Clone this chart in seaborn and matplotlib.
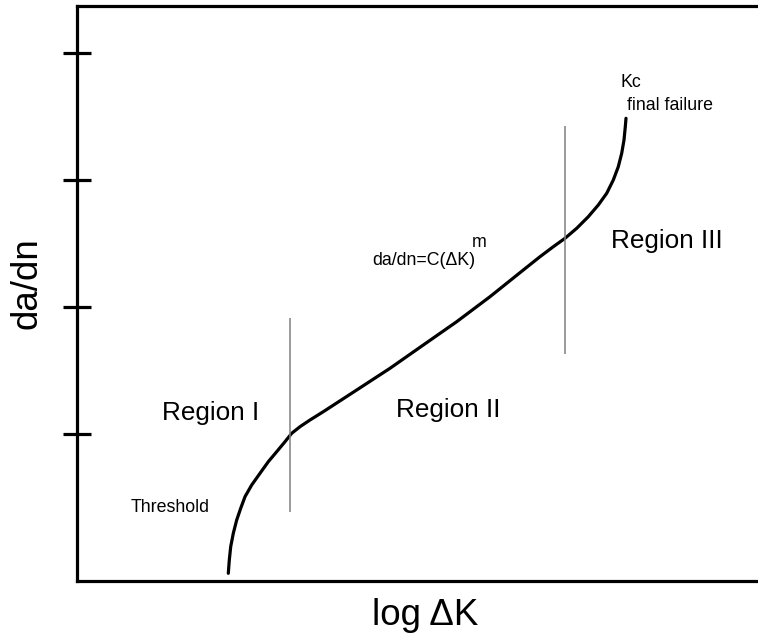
import numpy as np
import pandas as pd
import seaborn as sns
import matplotlib.pyplot as plt

# crack growth curve, in axis units (x: 0-681, y: 0-575)
curve_x = [151.3, 152.3, 153.7, 156.3, 159.7, 163.7, 168.0, 174.7, 183.0, 191.3,
           199.7, 208.0, 214.7, 223.0, 233.0, 246.3, 279.7, 313.0, 346.3, 379.7,
           413.0, 446.3, 463.0, 476.3, 488.0, 499.7, 511.3, 521.3, 529.7, 536.3,
           541.3, 544.7, 547.0, 548.3, 549.0]
curve_y = [7.7, 21.0, 34.3, 47.7, 61.0, 72.7, 84.3, 96.0, 107.7, 119.3,
           129.3, 139.3, 147.7, 154.3, 161.0, 169.3, 191.0, 212.7, 236.0, 259.3,
           284.3, 311.0, 324.3, 334.3, 342.7, 352.7, 364.3, 376.0, 387.7, 401.0,
           414.3, 427.7, 441.0, 454.3, 462.7]

# region boundaries: x position, y bottom, y top
bound_x = [213, 488]
bound_lo = [69, 227]
bound_hi = [263, 455]

ytick_pos = [147, 274, 401, 528]

sns.set_theme(style="white")
plt.rcParams['font.family'] = ['Liberation Sans', 'DejaVu Sans']

fig = plt.figure(figsize=(7.58, 6.38), dpi=100)
ax = fig.add_axes([77 / 758, 57 / 638, 681 / 758, 575 / 638])

df = pd.DataFrame({'x': curve_x, 'y': curve_y})
sns.lineplot(data=df, x='x', y='y', ax=ax, color='black', linewidth=2.3,
             sort=False, estimator=None)

for bx, lo, hi in zip(bound_x, bound_lo, bound_hi):
    ax.vlines(bx, lo, hi, color='#808080', linewidth=1.1)

ax.set_xlim(0, 681)
ax.set_ylim(0, 575)
ax.set_xticks([])
ax.set_yticks(ytick_pos)
ax.set_yticklabels([])
ax.tick_params(axis='y', direction='inout', length=20, width=2.3, color='black', left=True)

for side in ['left', 'bottom', 'top']:
    ax.spines[side].set_color('black')
    ax.spines[side].set_linewidth(2.3)
ax.spines['right'].set_visible(False)

ax.set_xlabel('log ΔK', fontsize=26.5, color='black', labelpad=12)
ax.set_ylabel('da/dn', fontsize=26.5, color='black', labelpad=10)
ax.xaxis.label.set_x(0.512)
ax.yaxis.label.set_y(0.518)

txt = dict(ha='center', va='baseline', color='black')
ax.text(133.5, 161, 'Region I', fontsize=18.8, **txt)
ax.text(371.7, 164, 'Region II', fontsize=18.8, **txt)
ax.text(590, 333, 'Region III', fontsize=18.8, **txt)
ax.text(93, 69, 'Threshold', fontsize=12.8, **txt)
ax.text(346.5, 316, 'da/dn=C(ΔK)', fontsize=12.8, **txt)
ax.text(402, 334, 'm', fontsize=12.8, **txt)
ax.text(544, 494, 'Kc', fontsize=12.8, ha='left', va='baseline', color='black')
ax.text(550, 471, 'final failure', fontsize=12.8, ha='left', va='baseline', color='black')

fig.savefig('out.png', dpi=100)
